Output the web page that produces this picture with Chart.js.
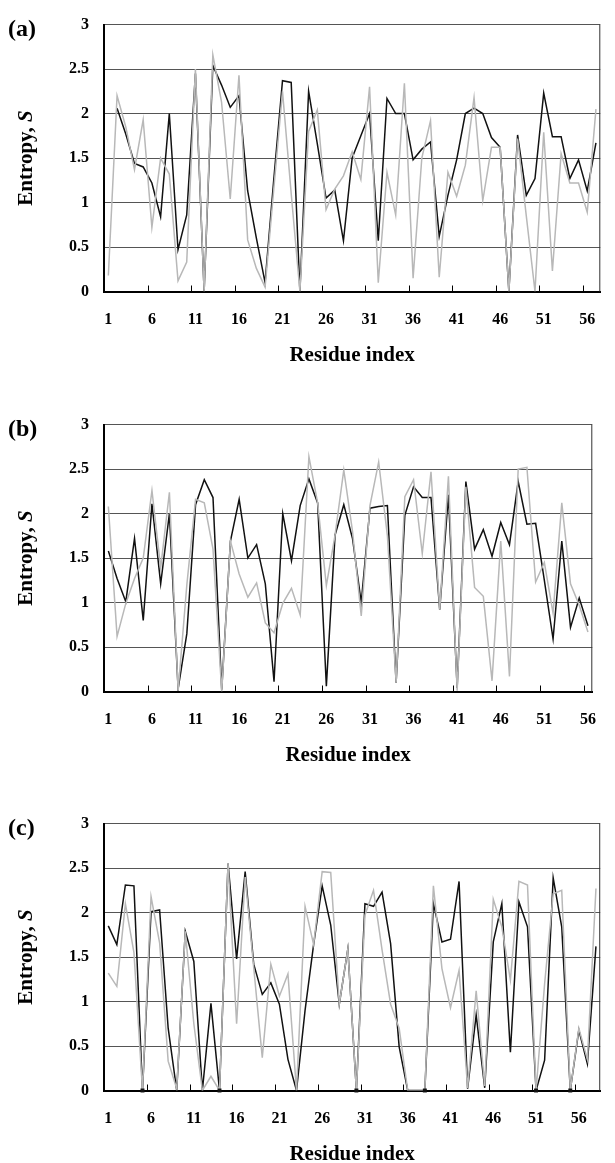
<!DOCTYPE html>
<html>
<head>
<meta charset="utf-8">
<script src="https://cdn.jsdelivr.net/npm/chart.js@4.4.0/dist/chart.umd.min.js"></script>
<style>
    html, body { margin: 0; padding: 0; background: #fff; overflow: hidden; }
    #wrap { position: relative; width: 615px; height: 1163px; }
    canvas { position: absolute; left: 0; }
</style>
</head>
<body>
<div id="wrap">
    <canvas id="chartA" width="615" height="366" style="top:0px"></canvas>
    <canvas id="chartB" width="615" height="366" style="top:400px"></canvas>
    <canvas id="chartC" width="615" height="366" style="top:799px"></canvas>
</div>
<script>
// residue numbers (category axis)
const residuesA = Array.from({ length: 57 }, (_, i) => String(i + 1));
const residuesB = Array.from({ length: 56 }, (_, i) => String(i + 1));
const residuesC = Array.from({ length: 58 }, (_, i) => String(i + 1));

const yTicks = [0, 0.5, 1, 1.5, 2, 2.5, 3];

// panel (a)
const blackA = [null, 2.06, 1.77, 1.44, 1.40, 1.22, 0.84, 2.00, 0.47, 0.86,
    2.45, 0, 2.54, 2.32, 2.07, 2.20, 1.13, 0.60, 0.10, 1.26,
    2.37, 2.35, 0, 2.25, 1.66, 1.05, 1.14, 0.57, 1.50, 1.75,
    2.00, 0.57, 2.17, 2.00, 2.00, 1.48, 1.60, 1.68, 0.62, 1.08,
    1.48, 2.00, 2.06, 2.00, 1.73, 1.62, 0, 1.76, 1.08, 1.27,
    2.23, 1.74, 1.74, 1.27, 1.48, 1.13, 1.67];
const grayA = [0.18, 2.20, 1.85, 1.37, 1.93, 0.72, 1.50, 1.32, 0.12, 0.33,
    2.50, 0, 2.66, 2.13, 1.04, 2.43, 0.58, 0.26, 0.05, 1.15,
    2.25, 1.10, 0, 1.80, 2.04, 0.92, 1.15, 1.30, 1.57, 1.26,
    2.30, 0.10, 1.34, 0.86, 2.34, 0.15, 1.50, 1.92, 0.16, 1.34,
    1.07, 1.42, 2.18, 1.02, 1.62, 1.62, 0, 1.72, 0.85, 0,
    1.79, 0.23, 1.55, 1.22, 1.22, 0.89, 2.05];

// panel (b)
const blackB = [1.58, 1.27, 1.01, 1.72, 0.80, 2.11, 1.21, 2.00, 0.03, 0.65,
    2.10, 2.38, 2.18, 0.02, 1.69, 2.16, 1.50, 1.65, 1.21, 0.11,
    2.00, 1.47, 2.09, 2.39, 2.12, 0.06, 1.76, 2.10, 1.72, 1.00,
    2.06, 2.08, 2.09, 0.10, 1.98, 2.30, 2.18, 2.18, 0.92, 2.21,
    0.04, 2.36, 1.60, 1.82, 1.52, 1.90, 1.65, 2.36, 1.88, 1.89,
    1.25, 0.59, 1.69, 0.72, 1.05, 0.74];
const grayB = [2.08, 0.62, 0.99, 1.27, 1.50, 2.26, 1.39, 2.24, 0.01, 1.20,
    2.16, 2.12, 1.60, 0, 1.69, 1.32, 1.06, 1.22, 0.77, 0.66,
    0.99, 1.16, 0.86, 2.64, 2.12, 1.19, 1.76, 2.49, 1.80, 0.85,
    2.09, 2.58, 1.75, 0.10, 2.19, 2.38, 1.55, 2.47, 0.92, 2.42,
    0.01, 2.30, 1.17, 1.07, 0.12, 1.69, 0.17, 2.50, 2.52, 1.23,
    1.45, 0.88, 2.12, 1.21, 0.97, 0.67];

// panel (c)
const blackC = [1.85, 1.64, 2.31, 2.30, 0, 2.01, 2.03, 0.70, 0, 1.79,
    1.45, 0, 0.98, 0, 2.55, 1.48, 2.46, 1.42, 1.08, 1.21,
    0.97, 0.35, 0, 0.90, 1.64, 2.30, 1.86, 0.97, 1.59, 0,
    2.10, 2.07, 2.23, 1.65, 0.49, 0, 0, 0, 2.10, 1.67,
    1.70, 2.35, 0.02, 0.85, 0.03, 1.67, 2.10, 0.43, 2.12, 1.84,
    0, 0.34, 2.39, 1.84, 0, 0.68, 0.30, 1.62];
const grayC = [1.32, 1.17, 2.10, 1.55, 0, 2.18, 1.66, 0.33, 0.02, 1.79,
    0.75, 0, 0.16, 0, 2.55, 0.75, 2.40, 1.38, 0.37, 1.42,
    1.06, 1.31, 0, 2.07, 1.64, 2.46, 2.45, 0.97, 1.59, 0,
    1.97, 2.25, 1.58, 0.97, 0.70, 0, 0, 0, 2.30, 1.37,
    0.93, 1.35, 0.03, 1.12, 0.05, 2.15, 1.84, 1.24, 2.35, 2.31,
    0, 1.20, 2.21, 2.25, 0, 0.70, 0.35, 2.27];
// residues marked with a small square on the axis
const zeroMarksC = [5, 14, 30, 38, 51, 55];

const FONT = "'Liberation Serif', 'Times New Roman', serif";

const framePlugin = {
    id: "frame",
    afterDatasetsDraw(chart) {
        const { ctx, chartArea } = chart;
        const xScale = chart.scales.x;
        const n = chart.data.labels.length;
        ctx.save();
        // right edge of the plot frame
        ctx.strokeStyle = "#333";
        ctx.lineWidth = 1;
        ctx.beginPath();
        ctx.moveTo(chartArea.right - 0.5, chartArea.top);
        ctx.lineTo(chartArea.right - 0.5, chartArea.bottom);
        ctx.stroke();
        // inner tick marks every 5 residues
        ctx.strokeStyle = "#000";
        ctx.beginPath();
        for (let k = 5; k < n; k += 5) {
            const x = Math.round(xScale.getPixelForValue(k - 0.5)) + 0.5;
            ctx.moveTo(x, chartArea.bottom);
            ctx.lineTo(x, chartArea.bottom - 6);
        }
        ctx.stroke();
        ctx.restore();
    },
    afterDraw(chart) {
        const { ctx, chartArea } = chart;
        const opts = chart.options.plugins.frame;
        ctx.save();
        ctx.fillStyle = "#000";
        // panel letter
        ctx.font = "bold 24px " + FONT;
        ctx.textBaseline = "middle";
        ctx.textAlign = "left";
        ctx.fillText(opts.letter, 8, chartArea.top + 5);
        // y axis title: "Entropy, S" with italic S
        const cy = (chartArea.top + chartArea.bottom) / 2;
        ctx.translate(27, cy);
        ctx.rotate(-Math.PI / 2);
        const part1 = "Entropy, ";
        const part2 = "S";
        ctx.font = "bold 21px " + FONT;
        const w1 = ctx.measureText(part1).width;
        ctx.font = "italic bold 21px " + FONT;
        const w2 = ctx.measureText(part2).width;
        let x0 = -(w1 + w2) / 2;
        ctx.font = "bold 21px " + FONT;
        ctx.fillText(part1, x0, 0);
        ctx.font = "italic bold 21px " + FONT;
        ctx.fillText(part2, x0 + w1, 0);
        ctx.restore();
    }
};

function makePanel(id, letter, labels, black, gray, marks) {
    const datasets = [];
    if (marks) {
        datasets.push({
            data: labels.map(l => marks.includes(Number(l)) ? 0 : null),
            showLine: false,
            pointStyle: "rect",
            pointRadius: 2.8,
            pointBackgroundColor: "#111",
            pointBorderWidth: 0,
            clip: false
        });
    }
    datasets.push({
        data: gray,
        borderColor: "#b8b8b8",
        borderWidth: 1.5,
        pointRadius: 0,
        tension: 0
    });
    datasets.push({
        data: black,
        borderColor: "#111",
        borderWidth: 1.5,
        pointRadius: 0,
        tension: 0
    });

    new Chart(document.getElementById(id), {
        type: "line",
        data: { labels: labels, datasets: datasets },
        options: {
            responsive: false,
            animation: false,
            events: [],
            layout: { padding: { top: 17, right: 6, bottom: 0, left: 0 } },
            plugins: {
                legend: { display: false },
                tooltip: { enabled: false },
                frame: { letter: letter }
            },
            scales: {
                x: {
                    type: "category",
                    offset: true,
                    grid: { display: false, drawTicks: false },
                    border: { display: true, color: "#000", width: 2 },
                    ticks: {
                        autoSkip: false,
                        maxRotation: 0,
                        padding: 19,
                        color: "#000",
                        font: { family: FONT, size: 16, weight: "bold" },
                        callback: function (v, i) {
                            return i % 5 === 0 ? this.getLabelForValue(v) : "";
                        }
                    },
                    title: {
                        display: true,
                        text: "Residue index",
                        color: "#000",
                        padding: 0,
                        font: { family: FONT, size: 21, weight: "bold", lineHeight: 1 }
                    },
                    afterFit: s => { s.height = 74.5; }
                },
                y: {
                    min: 0,
                    max: 3,
                    afterBuildTicks: s => { s.ticks = yTicks.map(v => ({ value: v })); },
                    grid: { color: "#555", lineWidth: 1, drawTicks: false },
                    border: { display: true, color: "#000", width: 2 },
                    ticks: {
                        padding: 15,
                        color: "#000",
                        font: { family: FONT, size: 16, weight: "bold" },
                        callback: v => String(v)
                    },
                    afterFit: s => { s.width = 104; }
                }
            }
        },
        plugins: [framePlugin]
    });
}

makePanel("chartA", "(a)", residuesA, blackA, grayA, null);
makePanel("chartB", "(b)", residuesB, blackB, grayB, null);
makePanel("chartC", "(c)", residuesC, blackC, grayC, zeroMarksC);
</script>
</body>
</html>
